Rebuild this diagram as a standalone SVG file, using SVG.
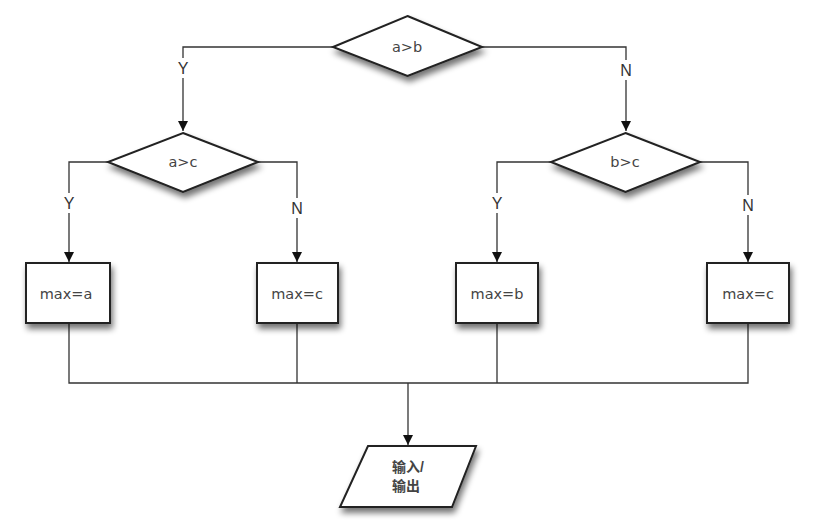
<svg xmlns="http://www.w3.org/2000/svg" width="817" height="523" viewBox="0 0 817 523">
<style>
.shape{fill:#fff;stroke:#222;stroke-width:2;filter:url(#sh)}
.conn{fill:none;stroke:#333;stroke-width:1.3}
.t{font-family:"DejaVu Sans","Liberation Sans",sans-serif;font-size:14.5px;fill:#444;text-anchor:middle;dominant-baseline:central}
.lbl{font-family:"Liberation Sans",Arial,sans-serif;font-size:16px;fill:#333;text-anchor:middle;dominant-baseline:central}
.cjk{font-family:"Liberation Sans","Noto Sans CJK SC",sans-serif;font-size:14px;font-weight:bold;fill:#444;text-anchor:middle;dominant-baseline:central}
.bg{fill:#fff}
</style>
<defs>
<filter id="sh" x="-20%" y="-20%" width="150%" height="160%">
<feGaussianBlur in="SourceAlpha" stdDeviation="3"/>
<feOffset dx="2" dy="5" result="b"/>
<feComponentTransfer><feFuncA type="linear" slope="0.55"/></feComponentTransfer>
<feMerge><feMergeNode/><feMergeNode in="SourceGraphic"/></feMerge>
</filter>
<marker id="arr" markerWidth="10" markerHeight="12" refX="10" refY="5" orient="auto" markerUnits="userSpaceOnUse" viewBox="0 0 10 10">
<path d="M0,0 L10,5 L0,10 Z" fill="#111"/>
</marker>
</defs>
<rect width="817" height="523" fill="#fff"/>
<g id="connectors">
<path class="conn" d="M333,47 H183 V131" marker-end="url(#arr)"/>
<path class="conn" d="M482,47 H626 V131" marker-end="url(#arr)"/>
<path class="conn" d="M108,162 H69 V262" marker-end="url(#arr)"/>
<path class="conn" d="M258,162 H297 V262" marker-end="url(#arr)"/>
<path class="conn" d="M551,162 H497 V262" marker-end="url(#arr)"/>
<path class="conn" d="M700,162 H748 V262" marker-end="url(#arr)"/>
<path class="conn" d="M69,323 V383 H748 V323 M297,323 V383 M497,323 V383"/>
<path class="conn" d="M408,383 V445" marker-end="url(#arr)"/>
<rect class="bg" x="176" y="58" width="14" height="20"/>
<text class="lbl" x="183" y="68">Y</text>
<rect class="bg" x="619" y="60" width="14" height="20"/>
<text class="lbl" x="626" y="70">N</text>
<rect class="bg" x="62" y="193" width="14" height="20"/>
<text class="lbl" x="69" y="203">Y</text>
<rect class="bg" x="290" y="198" width="14" height="20"/>
<text class="lbl" x="297" y="208">N</text>
<rect class="bg" x="490" y="193" width="14" height="20"/>
<text class="lbl" x="497" y="203">Y</text>
<rect class="bg" x="741" y="195" width="14" height="20"/>
<text class="lbl" x="748" y="205">N</text>
</g>
<g id="n_ab">
<polygon class="shape" points="407.5,16 482,47 407.5,76 333,47"/>
<text class="t" x="407" y="47">a&gt;b</text>
</g>
<g id="n_ac">
<polygon class="shape" points="183,133 258,162 183,192 108,162"/>
<text class="t" x="183" y="162">a&gt;c</text>
</g>
<g id="n_bc">
<polygon class="shape" points="625.5,133 700,162 625.5,192 551,162"/>
<text class="t" x="625" y="162">b&gt;c</text>
</g>
<g id="n_maxa">
<rect class="shape" x="26" y="263" width="84" height="60"/>
<text class="t" x="66" y="294">max=a</text>
</g>
<g id="n_maxc1">
<rect class="shape" x="257" y="263" width="81" height="60"/>
<text class="t" x="297" y="294">max=c</text>
</g>
<g id="n_maxb">
<rect class="shape" x="456" y="263" width="82" height="60"/>
<text class="t" x="497" y="294">max=b</text>
</g>
<g id="n_maxc2">
<rect class="shape" x="707" y="263" width="82" height="60"/>
<text class="t" x="748" y="294">max=c</text>
</g>
<g id="n_io">
<polygon class="shape" points="368,446 476,446 452,507 340,507"/>
<text class="cjk" x="408" y="467">输入/</text>
<text class="cjk" x="406" y="486">输出</text>
</g>
</svg>
